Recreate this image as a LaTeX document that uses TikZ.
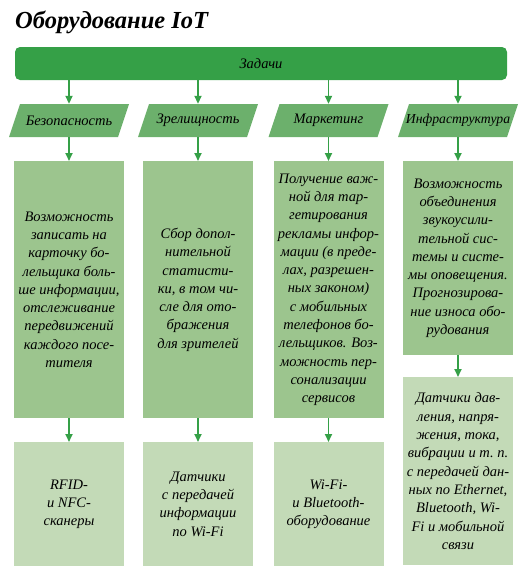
\documentclass[tikz,border=0pt]{standalone}
\usepackage{fontspec}
\setmainfont{Liberation Serif}
\usetikzlibrary{arrows.meta}
\definecolor{dgreen}{HTML}{35A047}
\definecolor{mgreen}{HTML}{6CB06C}
\definecolor{lgreen}{HTML}{9CC58E}
\definecolor{pgreen}{HTML}{C3DAB7}
\tikzset{
  txt/.style={font=\fontsize{14.5}{18.3}\selectfont\itshape, align=center, text=black},
  midbox/.style={txt, fill=lgreen, minimum width=110pt, inner sep=0pt, anchor=north},
  botbox/.style={txt, fill=pgreen, minimum width=110pt, inner sep=0pt, anchor=north},
  conn/.style={draw=dgreen, line width=1.8pt, -{Triangle[width=7pt,length=8pt]}}
}
\begin{document}
\begin{tikzpicture}[x=1pt,y=-1pt]
\useasboundingbox (0,0) rectangle (529,579);
\node[anchor=base west, inner sep=0pt, font=\fontsize{24.5}{29}\selectfont\bfseries\itshape] (title) at (15,28) {Оборудование IoT};
\node[txt, fill=dgreen, rounded corners=5pt, minimum width=492pt, minimum height=33pt, inner sep=0pt] (tasks) at (261,63.5) {Задачи};
\foreach \c/\n/\t/\s in {69/1/Безопасность/14.5, 198/2/Зрелищность/14.5, 328.5/3/Маркетинг/14.5, 458/4/Инфраструктура/13.7} {
  \fill[mgreen] (\c-49,104) -- (\c+60,104) -- (\c+49,137) -- (\c-60,137) -- cycle;
  \node[txt, font=\fontsize{\s}{18}\selectfont\itshape, minimum width=100pt, minimum height=33pt, inner sep=0pt] (p\n) at (\c,120.5) {\t};
}
\node[midbox, minimum height=257pt] (m1) at (69,161) {Возможность\\записать на\\карточку бо-\\лельщика боль-\\ше информации,\\отслеживание\\передвижений\\каждого посе-\\тителя};
\node[midbox, minimum height=257pt] (m2) at (198,161) {Сбор допол-\\нительной\\статисти-\\ки, в том чи-\\сле для ото-\\бражения\\для зрителей};
\node[midbox, minimum height=257pt] (m3) at (328.5,161) {Получение важ-\\ной для тар-\\гетирования\\рекламы инфор-\\мации (в преде-\\лах, разрешен-\\ных законом)\\с мобильных\\телефонов бо-\\лельщиков. Воз-\\можность пер-\\сонализации\\сервисов};
\node[midbox, minimum height=194pt] (m4) at (458,161) {Возможность\\объединения\\звукоусили-\\тельной сис-\\темы и систе-\\мы оповещения.\\Прогнозирова-\\ние износа обо-\\рудования};
\node[botbox, minimum height=124pt] (b1) at (69,442) {RFID-\\и NFC-\\сканеры};
\node[botbox, minimum height=124pt] (b2) at (198,442) {Датчики\\с передачей\\информации\\по Wi-Fi};
\node[botbox, minimum height=124pt] (b3) at (328.5,442) {Wi-Fi-\\и Bluetooth-\\оборудование};
\node[botbox, minimum height=188pt] (b4) at (458,377) {Датчики дав-\\ления, напря-\\жения, тока,\\вибрации и т.~п.\\с передачей дан-\\ных по Ethernet,\\Bluetooth, Wi-\\Fi и мобильной\\связи};
\foreach \n in {1,2,3,4} {
  \draw[conn] (tasks.south -| p\n.north) -- (p\n.north);
  \draw[conn] (p\n.south) -- (m\n.north);
  \draw[conn] (m\n.south) -- (b\n.north);
}
\end{tikzpicture}
\end{document}
